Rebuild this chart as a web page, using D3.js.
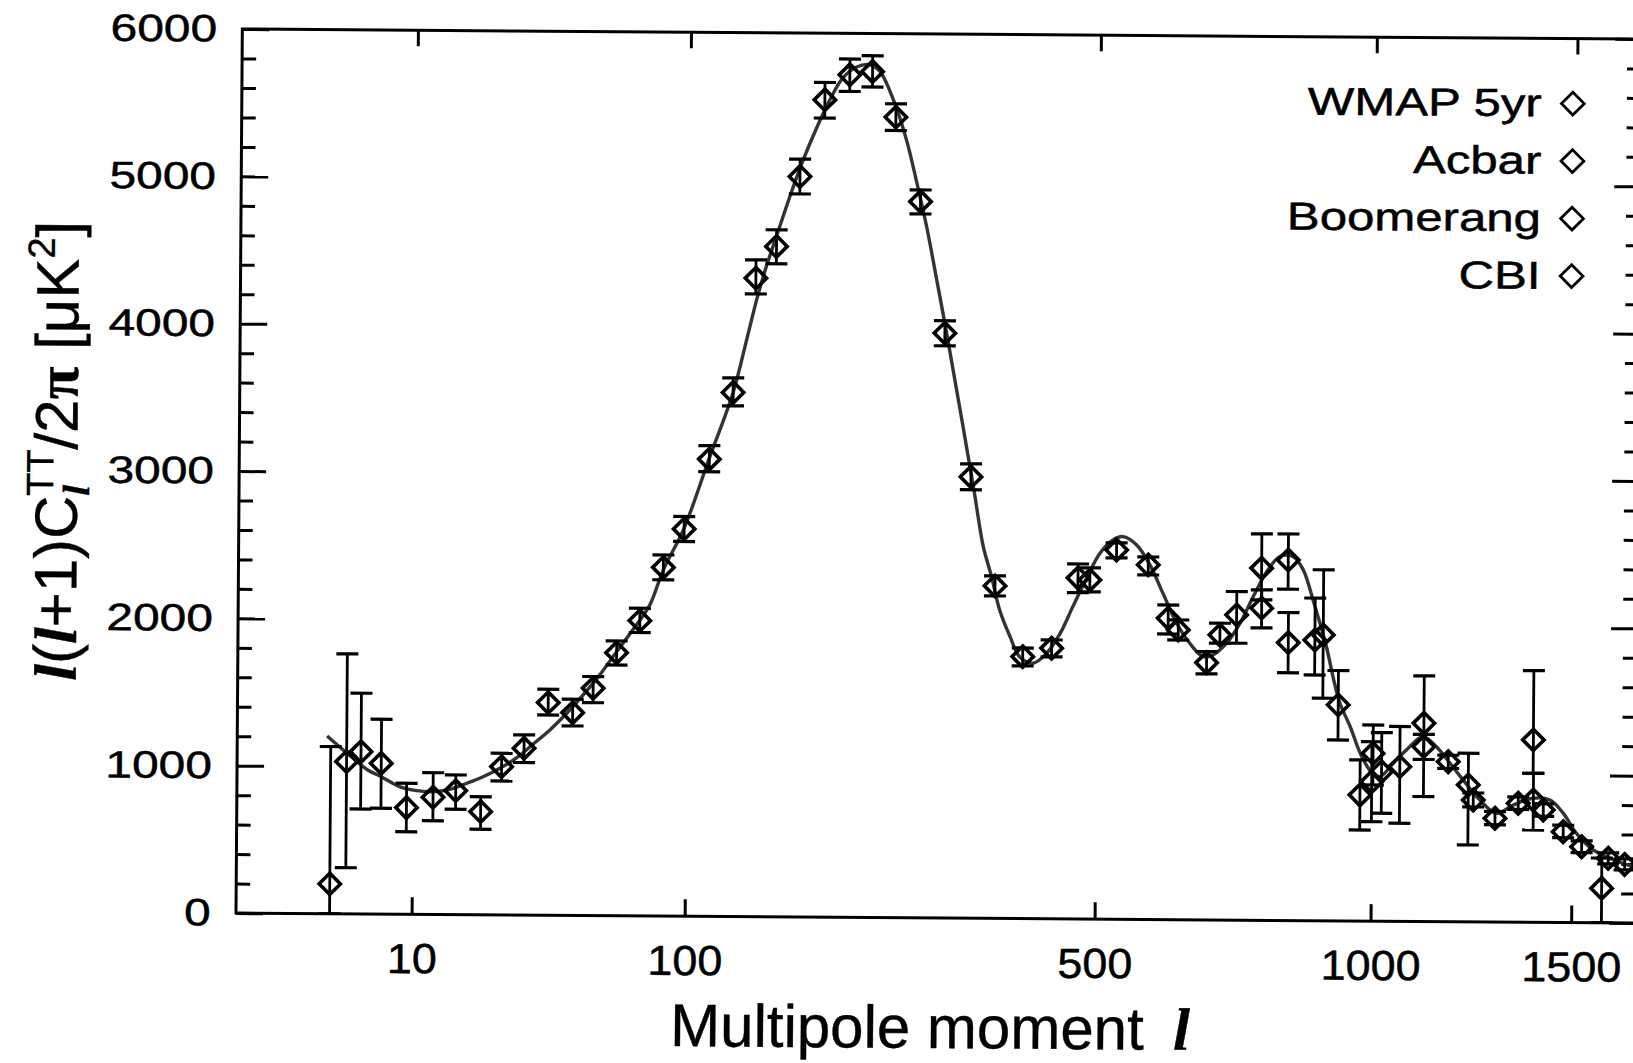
<!DOCTYPE html>
<html>
<head>
<meta charset="utf-8">
<script src="https://cdn.jsdelivr.net/npm/d3@7/dist/d3.min.js"></script>
<style>
  body { margin: 0; background: #fff; }
  svg { display: block; }
</style>
</head>
<body>
<div id="chart"></div>
<script>
// rows: [multipole l, l(l+1)C_l/2pi in uK^2, error bar low, error bar high]
const wmap = [
  [2.2, 202, 0, 1134], [3.2, 1033, 313, 1764], [4.3, 1101, 712, 1498], [6.2, 1023, 718, 1322],
  [9.2, 723, 560, 889], [13.1, 795, 636, 962], [17.1, 841, 715, 948], [22.3, 700, 580, 801],
  [27.2, 1006, 909, 1097], [33.2, 1132, 1035, 1223], [40.4, 1443, 1359, 1534], [48.7, 1376, 1286, 1467],
  [56.3, 1543, 1445, 1622], [65.8, 1785, 1702, 1865], [76.1, 2004, 1923, 2088], [87.4, 2366, 2282, 2451],
  [98.2, 2628, 2543, 2713], [112.2, 3103, 3018, 3195], [126.5, 3557, 3466, 3656], [140.9, 4334, 4227, 4458],
  [155.1, 4550, 4433, 4663], [172.1, 5026, 4908, 5144], [191.3, 5548, 5424, 5666], [212.1, 5719, 5606, 5826],
  [232.3, 5742, 5637, 5849], [254.5, 5434, 5343, 5524], [279.6, 4862, 4778, 4941], [306.1, 3970, 3884, 4054],
  [336.2, 2996, 2908, 3084], [365.2, 2257, 2189, 2325], [400, 1778, 1715, 1837], [437.5, 1837, 1778, 1893],
  [489.7, 2302, 2221, 2384], [528.5, 2507, 2453, 2555], [577.3, 2407, 2339, 2461], [626.6, 1967, 1899, 2035],
  [675, 1746, 1670, 1821], [727.7, 2072, 1880, 2230], [773.2, 2390, 2175, 2623], [824.2, 2447, 2249, 2624],
  [895.3, 1940, 1511, 2382], [975, 856, 618, 1094]
];
const acbar = [
  [825.3, 1886, 1682, 2090], [1000.4, 946, 675, 1218], [1118, 1187, 1100, 1270], [1176.6, 1086, 1040, 1130],
  [1293.9, 704, 660, 750], [1354, 807, 765, 850], [1421, 763, 720, 805], [1476, 616, 575, 660],
  [1528, 515, 475, 555], [1604.5, 438, 400, 475], [1653, 397, 360, 435]
];
const boomerang = [
  [472.9, 2315, 2215, 2410], [609.9, 2046, 1939, 2136], [698, 1935, 1879, 2015], [927.4, 1466, 1228, 1699],
  [1022, 1015, 733, 1280], [1238.7, 827, 780, 875], [1394, 830, 626, 1011]
];
const cbi = [
  [773.8, 2119, 1985, 2243], [878.3, 1905, 1668, 2190], [1003, 1139, 924, 1331], [1063, 1050, 666, 1322],
  [1118, 1346, 848, 1667], [1226, 929, 522, 1144], [1393, 1238, 1011, 1708], [1586, 234, 0, 439]
];

// best-fit model curve
const fitL = [2, 3.2, 4.9, 6.2, 8.3, 10.6, 13.1, 16, 19.3, 22.8, 26.8, 31.2, 35.9, 41, 46.6, 52.5, 58.9,
  65.8, 73.1, 80.8, 87.4, 98, 112, 126.5, 135, 141.5, 148, 155, 164.6, 174.5, 184.8, 195.4, 206, 218,
  230, 239, 252, 265, 275, 286, 297, 308, 339, 351, 361, 371, 384, 396, 413, 431, 449, 466, 485, 504,
  523, 538, 559, 580, 601, 624, 646, 669, 686, 710, 734, 758, 783, 808, 834, 854, 874, 902, 916, 931,
  953, 975, 996, 1018, 1048, 1078, 1116, 1148, 1181, 1213, 1255, 1298, 1341, 1394, 1439, 1476, 1513,
  1561, 1609, 1678];
const fitD = [1206, 1092, 977, 932, 866, 839, 833, 850, 892, 937, 995, 1068, 1162, 1258, 1372, 1497, 1634,
  1792, 1945, 2111, 2350, 2628, 3103, 3557, 3915, 4187, 4413, 4618, 4890, 5139, 5356, 5548, 5696, 5772,
  5787, 5743, 5551, 5280, 5009, 4693, 4331, 3970, 2930, 2523, 2320, 2094, 1913, 1777, 1734, 1802, 1939,
  2120, 2314, 2484, 2575, 2598, 2542, 2407, 2216, 2012, 1877, 1787, 1799, 1879, 2016, 2197, 2367, 2470,
  2470, 2380, 2177, 1860, 1658, 1477, 1319, 1139, 1026, 981, 1073, 1164, 1255, 1187, 1075, 963, 828,
  738, 795, 842, 831, 741, 606, 494, 438, 382];

const xTicks = [10, 100, 500, 1000, 1500];
const yMajor = [0, 1000, 2000, 3000, 4000, 5000, 6000];
const legendNames = ["WMAP 5yr", "Acbar", "Boomerang", "CBI"];

const W = 1633, H = 1063;
const frame = {left: 236, right: 1640, top: 29, bottom: 913};
const tilt = 0.41;   // scan is turned a little clockwise
const sans = "'Liberation Sans', Arial, Helvetica, sans-serif";
const serif = "'Liberation Serif', 'Times New Roman', serif";

const svg = d3.select("#chart").append("svg").attr("width", W).attr("height", H);
const g = svg.append("g").attr("transform", `rotate(${tilt},${frame.left},${frame.bottom})`);

const x = d3.scalePow().exponent(0.4).domain([0, 1700]).range([231, 1640]);
const y = d3.scaleLinear().domain([0, 6000]).range([frame.bottom, frame.top]);

// scanned print looks a bit heavier than plain text
function ink(sel, w) {
  sel.attr("fill", "#000").attr("stroke", "#000").attr("stroke-width", w);
}

// axes
function styleAxis(sel) {
  sel.select(".domain").remove();
  sel.selectAll(".tick line").attr("stroke", "#000").attr("stroke-width", 3);
}
const yMinor = d3.range(0, 6001, 200);

g.append("g").attr("transform", `translate(${frame.left},0)`)
  .call(d3.axisLeft(y).tickValues(yMinor).tickSizeInner(-27).tickSizeOuter(0).tickPadding(20)
    .tickFormat(d => yMajor.includes(d) ? d : ""))
  .call(styleAxis)
  .call(a => a.selectAll(".tick line").attr("x2", d => yMajor.includes(d) ? 27 : 14))
  .call(a => a.selectAll(".tick text").call(ink, 0.5).style("font-family", sans)
    .style("font-size", "38px").attr("transform", "scale(1.26,1)"));

g.append("g").attr("transform", `translate(${frame.right},0)`)
  .call(d3.axisRight(y).tickValues(yMinor).tickSizeInner(-30).tickSizeOuter(0).tickFormat(""))
  .call(styleAxis)
  .call(a => a.selectAll(".tick line").attr("x2", d => yMajor.includes(d) ? -31 : -19));

g.append("g").attr("transform", `translate(0,${frame.bottom})`)
  .call(d3.axisBottom(x).tickValues(xTicks).tickSizeInner(-17).tickSizeOuter(0).tickPadding(29)
    .tickFormat(d3.format("d")))
  .call(styleAxis)
  .call(a => a.selectAll(".tick text").call(ink, 0.5).style("font-family", sans)
    .style("font-size", "42px").attr("transform", "scale(1.07,1)"));

g.append("g").attr("transform", `translate(0,${frame.top})`)
  .call(d3.axisTop(x).tickValues(xTicks).tickSizeInner(-16).tickSizeOuter(0).tickFormat(""))
  .call(styleAxis);

g.append("rect")
  .attr("x", frame.left).attr("y", frame.top)
  .attr("width", frame.right - frame.left).attr("height", frame.bottom - frame.top)
  .attr("fill", "none").attr("stroke", "#000").attr("stroke-width", 3);

// plot area
svg.append("defs").append("clipPath").attr("id", "clip")
  .append("rect").attr("x", frame.left).attr("y", frame.top)
  .attr("width", frame.right - frame.left).attr("height", frame.bottom - frame.top);
const plot = g.append("g").attr("clip-path", "url(#clip)");

const line = d3.line().x(d => x(d[0])).y(d => y(d[1])).curve(d3.curveCatmullRom.alpha(0.5));
plot.append("path")
  .datum(fitL.map((l, i) => [l, fitD[i]]))
  .attr("d", line)
  .attr("fill", "none").attr("stroke", "#333").attr("stroke-width", 3.4);

const diamond = d3.symbol(d3.symbolDiamond2, 290);
const allRows = [].concat(wmap, acbar, boomerang, cbi);
const capW = 22;

const pts = plot.selectAll("g.pt").data(allRows).join("g")
  .attr("class", "pt")
  .attr("transform", d => `translate(${x(d[0])},0)`);
pts.append("line")
  .attr("y1", d => y(d[2])).attr("y2", d => y(d[3]))
  .attr("stroke", "#000").attr("stroke-width", 2.8);
pts.append("line")
  .attr("x1", -capW / 2).attr("x2", capW / 2)
  .attr("y1", d => y(d[3])).attr("y2", d => y(d[3]))
  .attr("stroke", "#000").attr("stroke-width", 3.2);
pts.append("line")
  .attr("x1", -capW / 2).attr("x2", capW / 2)
  .attr("y1", d => y(d[2])).attr("y2", d => y(d[2]))
  .attr("stroke", "#000").attr("stroke-width", 3.2);
pts.append("path")
  .attr("d", diamond)
  .attr("transform", d => `translate(0,${y(d[1])})`)
  .attr("fill", "none").attr("stroke", "#000").attr("stroke-width", 3.6);

// legend
const leg = g.append("g").selectAll("g").data(legendNames).join("g")
  .attr("transform", (d, i) => `translate(1536,${107 + i * 57.5})`);
leg.append("text")
  .attr("text-anchor", "end")
  .attr("transform", "scale(1.26,1)")
  .call(ink, 0.5)
  .style("font-family", sans).style("font-size", "39px")
  .text(d => d);
leg.append("path")
  .attr("d", d3.symbol(d3.symbolDiamond2, 330))
  .attr("transform", "translate(31,-13)")
  .attr("fill", "none").attr("stroke", "#000").attr("stroke-width", 2.8);

// axis titles
const xt = g.append("text")
  .attr("x", 671).attr("y", 1043)
  .call(ink, 0.4)
  .style("font-family", sans).style("font-size", "60px");
xt.append("tspan").text("Multipole moment");
xt.append("tspan").attr("x", 1174)
  .style("font-family", serif).style("font-weight", "bold").style("font-style", "italic")
  .text("l");

const yt = g.append("text")
  .attr("transform", "translate(74,452) rotate(-90)")
  .attr("text-anchor", "middle")
  .call(ink, 0.4)
  .style("font-family", sans).style("font-size", "60px");
const ell = t => t.style("font-family", serif).style("font-weight", "bold").style("font-style", "italic");
yt.append("tspan").call(ell).text("l");
yt.append("tspan").text("(");
yt.append("tspan").call(ell).text("l");
yt.append("tspan").text("+1)C");
yt.append("tspan").call(ell).style("font-size", "38px").attr("dy", 12).text("l");
yt.append("tspan").style("font-size", "38px").attr("dx", -11).attr("dy", -36).text("TT");
yt.append("tspan").attr("dy", 24).text("/2");
yt.append("tspan").style("font-family", serif).style("font-weight", "bold").text("π");
yt.append("tspan").text(" [μK");
yt.append("tspan").style("font-size", "38px").attr("dy", -24).text("2");
yt.append("tspan").attr("dy", 24).text("]");
</script>
</body>
</html>
